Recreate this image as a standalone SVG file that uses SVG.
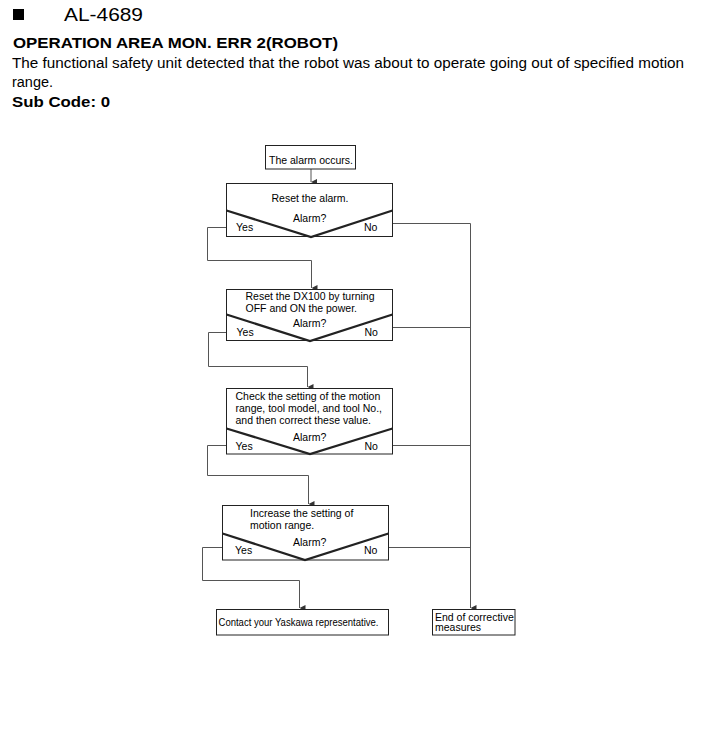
<svg xmlns="http://www.w3.org/2000/svg" width="705" height="739" viewBox="0 0 705 739">
<style>
.t{font-family:"Liberation Sans",Arial,sans-serif;fill:#000}
.h{font-size:19px}
.b{font-weight:bold;font-size:15px}
.p{font-size:14px}
.f{font-size:10.5px}
.box{fill:#fff;stroke:#222;stroke-width:1}
.v{fill:none;stroke:#222;stroke-width:2.3}
.c{fill:none;stroke:#555;stroke-width:1}
</style>
<defs>
<marker id="ah" viewBox="0 0 6 6" refX="3" refY="6" markerWidth="6" markerHeight="6" markerUnits="userSpaceOnUse" orient="auto-start-reverse">
<path d="M0,0 L6,0 L3,6 Z" fill="#333"/>
</marker>
</defs>
<rect x="13" y="9" width="11" height="11" fill="#000"/>
<text class="t h" x="64" y="21" textLength="79" lengthAdjust="spacingAndGlyphs">AL-4689</text>
<text class="t b" x="13" y="48" textLength="325" lengthAdjust="spacingAndGlyphs">OPERATION AREA MON. ERR 2(ROBOT)</text>
<text class="t p" x="12" y="68" textLength="672" lengthAdjust="spacingAndGlyphs">The functional safety unit detected that the robot was about to operate going out of specified motion</text>
<text class="t p" x="12" y="87" textLength="41" lengthAdjust="spacingAndGlyphs">range.</text>
<text class="t b" x="12" y="107" textLength="98" lengthAdjust="spacingAndGlyphs">Sub Code: 0</text>

<g id="connectors">
<path class="c" d="M311,169 V182" marker-end="url(#ah)"/>
<path class="c" d="M226,227.5 H207.5 V260.5 H311.5 V288" marker-end="url(#ah)"/>
<path class="c" d="M227,332.5 H208.5 V366.5 H307.5 V387" marker-end="url(#ah)"/>
<path class="c" d="M226,445.5 H207.5 V475.5 H308.5 V504" marker-end="url(#ah)"/>
<path class="c" d="M222,547.5 H202.5 V580.5 H299.5 V608" marker-end="url(#ah)"/>
<path class="c" d="M393,223.5 H470.5 V608" marker-end="url(#ah)"/>
<path class="c" d="M393,327.5 H470.5"/>
<path class="c" d="M393,445.5 H470.5"/>
<path class="c" d="M389,547.5 H470.5"/>
</g>

<g id="start">
<rect class="box" x="265.5" y="145.5" width="90" height="23.5"/>
<text class="t f" x="269" y="164">The alarm occurs.</text>
</g>

<g id="step1">
<rect class="box" x="226.5" y="183.5" width="166" height="53"/>
<path class="v" d="M226.5,210.5 L311,237 L392.5,210.5"/>
<text class="t f" x="310" y="202" text-anchor="middle">Reset the alarm.</text>
<text class="t f" x="293" y="222">Alarm?</text>
<text class="t f" x="236" y="231">Yes</text>
<text class="t f" x="364" y="231">No</text>
</g>

<g id="step2">
<rect class="box" x="226.5" y="289.5" width="166" height="51"/>
<path class="v" d="M226.5,314.5 L310,341 L392.5,314.5"/>
<text class="t f" x="245.5" y="299.5">Reset the DX100 by turning</text>
<text class="t f" x="245.5" y="311.5">OFF and ON the power.</text>
<text class="t f" x="293" y="327">Alarm?</text>
<text class="t f" x="236.5" y="336">Yes</text>
<text class="t f" x="364.5" y="336">No</text>
</g>

<g id="step3">
<rect class="box" x="226.5" y="388.5" width="166" height="65.5"/>
<path class="v" d="M226.5,428.5 L310,454 L392.5,428.5"/>
<text class="t f" x="235.5" y="400">Check the setting of the motion</text>
<text class="t f" x="235.5" y="412">range, tool model, and tool No.,</text>
<text class="t f" x="235.5" y="424">and then correct these value.</text>
<text class="t f" x="293" y="441">Alarm?</text>
<text class="t f" x="235.5" y="450">Yes</text>
<text class="t f" x="364.5" y="450">No</text>
</g>

<g id="step4">
<rect class="box" x="222.5" y="505.5" width="166" height="54.5"/>
<path class="v" d="M222.5,533.5 L305,560 L388.5,533.5"/>
<text class="t f" x="250" y="517">Increase the setting of</text>
<text class="t f" x="250" y="529">motion range.</text>
<text class="t f" x="293" y="546">Alarm?</text>
<text class="t f" x="235" y="554">Yes</text>
<text class="t f" x="364" y="554">No</text>
</g>

<g id="contact">
<rect class="box" x="216.5" y="609.5" width="172" height="25.5"/>
<text class="t f" x="218.5" y="626" textLength="160" lengthAdjust="spacingAndGlyphs">Contact your Yaskawa representative.</text>
</g>

<g id="end">
<rect class="box" x="432.5" y="609.5" width="82.5" height="25.5"/>
<text class="t f" x="435" y="620.5">End of corrective</text>
<text class="t f" x="435" y="631">measures</text>
</g>
</svg>
